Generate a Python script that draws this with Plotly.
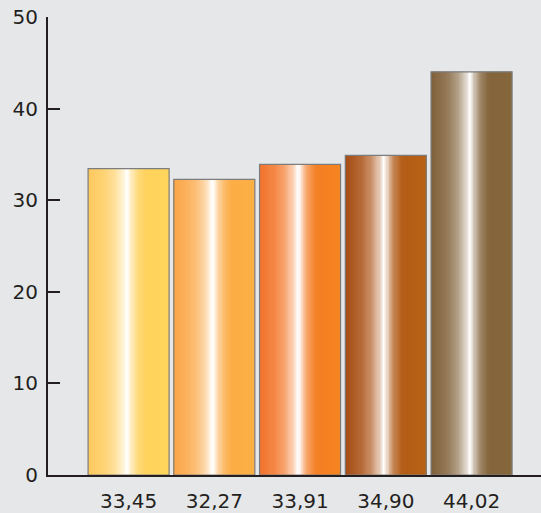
import plotly.graph_objects as go

# ---- data ----
categories = [0, 1, 2, 3, 4]
values = [33.45, 32.27, 33.91, 34.90, 44.02]
tick_labels = ["33,45", "32,27", "33,91", "34,90", "44,02"]
y_ticks = [0, 10, 20, 30, 40, 50]

# ---- style ----
left_colors = ["#fec85c", "#fba547", "#f2702a", "#a54a12", "#7f5f39"]
right_colors = ["#ffd65c", "#fcb044", "#f5841f", "#b86216", "#86663b"]
BG = "#e6e7e9"
INK = "#231f20"
FONT = "DejaVu Sans"
W = 0.945
N = 72

# highlight profile: (t, white mix)
profile = [(0.0, 0.0), (0.2, 0.15), (0.32, 0.35), (0.43, 0.7), (0.48, 1.0),
           (0.51, 0.85), (0.55, 0.55), (0.61, 0.25), (0.7, 0.03), (0.75, 0.0), (1.0, 0.0)]


def mix_at(t):
    for (t0, m0), (t1, m1) in zip(profile[:-1], profile[1:]):
        if t0 <= t <= t1:
            return m0 + (m1 - m0) * (t - t0) / (t1 - t0)
    return 0.0


def hex2rgb(h):
    h = h.lstrip("#")
    return [int(h[i:i + 2], 16) for i in (0, 2, 4)]


def color_at(k, t):
    a = hex2rgb(left_colors[k])
    b = hex2rgb(right_colors[k])
    base = [a[j] + (b[j] - a[j]) * t for j in range(3)]
    m = mix_at(t)
    c = [round(base[j] + (255 - base[j]) * m) for j in range(3)]
    return "rgb(%d,%d,%d)" % tuple(c)


fig = go.Figure()
step = W / N
for i in range(N):
    t = (i + 0.5) / N
    fig.add_trace(go.Bar(
        x=categories, y=values,
        width=step * 1.08, offset=-W / 2 + i * step,
        marker=dict(color=[color_at(k, t) for k in range(len(values))], line=dict(width=0)),
        hoverinfo="skip", showlegend=False,
    ))

# outline
fig.add_trace(go.Bar(
    x=categories, y=values, width=W,
    marker=dict(color="rgba(0,0,0,0)", line=dict(color="#7d7d7d", width=1.2)),
    hoverinfo="skip", showlegend=False,
))

fig.update_layout(
    width=541, height=513,
    barmode="overlay",
    paper_bgcolor=BG, plot_bgcolor=BG,
    margin=dict(l=48, r=0, t=17, b=38),
    font=dict(family=FONT, size=20, color=INK),
    xaxis=dict(
        range=[-0.94, 4.81], automargin=False,
        tickmode="array", tickvals=categories, ticktext=tick_labels,
        showline=True, linecolor=INK, linewidth=2,
        showgrid=False, zeroline=False, ticks="",
        tickfont=dict(family=FONT, size=20, color=INK),
        ticklabelstandoff=7,
    ),
    yaxis=dict(
        range=[0, 50], automargin=False,
        tickmode="array", tickvals=y_ticks,
        showline=True, linecolor=INK, linewidth=2,
        showgrid=False, zeroline=False,
        ticks="inside", ticklen=12, tickwidth=2, tickcolor=INK,
        tickfont=dict(family=FONT, size=20, color=INK),
        ticklabelstandoff=4,
    ),
)

fig.write_html(
    "out.html",
    config={"displayModeBar": False},
    post_script="document.body.style.margin='0';document.body.style.background='%s';" % BG,
)
